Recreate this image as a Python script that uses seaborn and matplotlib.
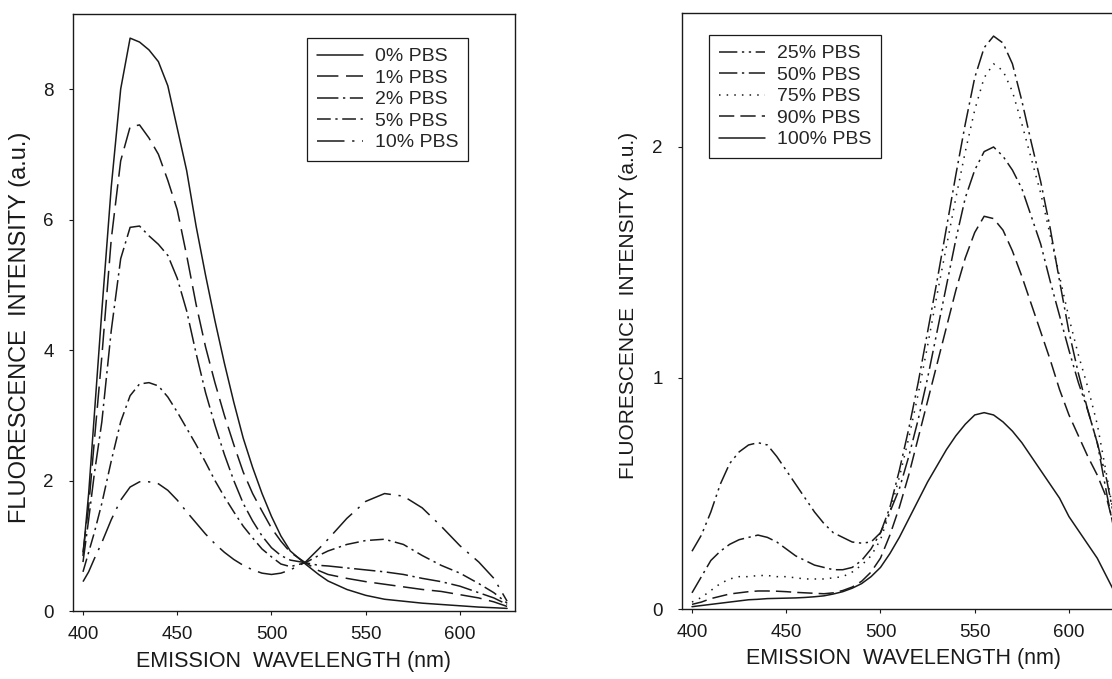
import numpy as np
import pandas as pd
import seaborn as sns
import matplotlib.pyplot as plt

# Emission spectra (wavelength in nm, intensity in a.u.)
wl_left = [400, 403, 406, 410, 415, 420, 425, 430, 435, 440, 445, 450, 455, 460, 465,
           470, 475, 480, 485, 490, 495, 500, 505, 510, 518, 525, 530, 540, 550, 560,
           570, 580, 590, 600, 610, 618, 625]

pbs_0 = [0.85, 1.8, 3.0, 4.6, 6.5, 8.0, 8.78, 8.72, 8.6, 8.42, 8.05, 7.4, 6.75, 5.9, 5.15,
         4.45, 3.8, 3.2, 2.65, 2.2, 1.8, 1.45, 1.15, 0.92, 0.72, 0.56, 0.46, 0.33, 0.24, 0.18,
         0.15, 0.12, 0.1, 0.08, 0.06, 0.05, 0.04]
pbs_1 = [0.9, 1.6, 2.6, 3.9, 5.7, 6.9, 7.42, 7.45, 7.25, 7.0, 6.6, 6.15, 5.45, 4.7, 4.05,
         3.5, 3.0, 2.55, 2.13, 1.8, 1.53, 1.27, 1.07, 0.9, 0.74, 0.62, 0.56, 0.5, 0.45, 0.41,
         0.37, 0.33, 0.3, 0.25, 0.2, 0.14, 0.07]
pbs_2 = [0.75, 1.4, 2.1, 2.9, 4.3, 5.4, 5.88, 5.9, 5.75, 5.62, 5.45, 5.1, 4.6, 3.95, 3.35,
         2.85, 2.4, 2.0, 1.65, 1.38, 1.15, 0.97, 0.85, 0.78, 0.74, 0.7, 0.69, 0.66, 0.63, 0.6,
         0.56, 0.5, 0.45, 0.38, 0.28, 0.2, 0.1]
pbs_5 = [0.6, 0.9, 1.2, 1.65, 2.3, 2.9, 3.3, 3.48, 3.5, 3.45, 3.28, 3.05, 2.8, 2.55, 2.28,
         2.0, 1.75, 1.52, 1.3, 1.12, 0.95, 0.83, 0.72, 0.68, 0.74, 0.85, 0.92, 1.02, 1.08, 1.1,
         1.02, 0.85, 0.7, 0.58, 0.42, 0.28, 0.12]
pbs_10 = [0.45, 0.6, 0.8, 1.05, 1.4, 1.7, 1.9, 1.98, 1.98, 1.95, 1.85, 1.7, 1.52, 1.35, 1.18,
          1.03, 0.9, 0.79, 0.7, 0.63, 0.58, 0.56, 0.58, 0.63, 0.75, 0.95, 1.1, 1.42, 1.68, 1.8,
          1.76, 1.58, 1.3, 1.0, 0.75, 0.5, 0.15]

wl_right = [400, 405, 410, 415, 420, 425, 430, 435, 440, 445, 450, 455, 460, 465, 470, 475,
            480, 485, 490, 495, 500, 505, 510, 515, 520, 525, 530, 535, 540, 545, 550, 555,
            560, 565, 570, 575, 580, 585, 590, 595, 600, 605, 610, 615, 620, 625]

pbs_25 = [0.25, 0.32, 0.42, 0.54, 0.63, 0.68, 0.71, 0.72, 0.71, 0.66, 0.6, 0.54, 0.48, 0.42,
          0.37, 0.33, 0.31, 0.29, 0.285, 0.29, 0.33, 0.42, 0.52, 0.66, 0.82, 1.0, 1.2, 1.4,
          1.6, 1.78, 1.9, 1.98, 2.0, 1.96, 1.9, 1.82, 1.7, 1.58, 1.42, 1.27, 1.12, 0.98, 0.86,
          0.72, 0.56, 0.35]
pbs_50 = [0.07, 0.14, 0.21, 0.25, 0.28, 0.3, 0.31, 0.32, 0.31, 0.29, 0.26, 0.23, 0.21, 0.19,
          0.18, 0.17, 0.17, 0.18, 0.21, 0.26, 0.33, 0.44, 0.6, 0.78, 0.98, 1.2, 1.42, 1.65,
          1.88, 2.1, 2.3, 2.43, 2.48, 2.45, 2.36, 2.2, 2.02, 1.85, 1.65, 1.42, 1.2, 1.02, 0.86,
          0.72, 0.5, 0.3]
pbs_75 = [0.03, 0.05, 0.08, 0.11, 0.13, 0.14, 0.14, 0.145, 0.145, 0.14, 0.14, 0.135, 0.13,
          0.13, 0.13, 0.135, 0.14, 0.16, 0.19, 0.23, 0.3, 0.42, 0.57, 0.74, 0.93, 1.14, 1.36,
          1.57, 1.78, 1.98, 2.16, 2.3, 2.36, 2.33, 2.24, 2.1, 1.95, 1.8, 1.62, 1.44, 1.26, 1.1,
          0.96, 0.8, 0.58, 0.35]
pbs_90 = [0.02, 0.03, 0.045, 0.055, 0.065, 0.07, 0.075, 0.078, 0.078, 0.077, 0.075, 0.072,
          0.07, 0.068, 0.066, 0.07, 0.08, 0.095, 0.12, 0.16, 0.22, 0.32, 0.44, 0.58, 0.74, 0.9,
          1.06, 1.22, 1.38, 1.52, 1.63, 1.7, 1.69, 1.64, 1.55, 1.44, 1.32, 1.2, 1.08, 0.95,
          0.84, 0.75, 0.66, 0.58, 0.48, 0.32]
pbs_100 = [0.01, 0.015, 0.02, 0.025, 0.03, 0.035, 0.04, 0.042, 0.045, 0.046, 0.047, 0.048,
           0.05, 0.053, 0.057, 0.065, 0.075, 0.09, 0.11, 0.14, 0.18, 0.24, 0.31, 0.39, 0.47,
           0.55, 0.62, 0.69, 0.75, 0.8, 0.84, 0.85, 0.84, 0.81, 0.77, 0.72, 0.66, 0.6, 0.54,
           0.48, 0.4, 0.34, 0.28, 0.22, 0.14, 0.06]

left_labels = ['0% PBS', '1% PBS', '2% PBS', '5% PBS', '10% PBS']
right_labels = ['25% PBS', '50% PBS', '75% PBS', '90% PBS', '100% PBS']

# Line styles roughly like the old SigmaPlot patterns
left_styles = ['-', (0, (14, 5)), (0, (14, 3, 1.5, 3)), (0, (9, 3, 1.5, 3)), (0, (18, 5, 1.5, 5))]
right_styles = [(0, (12, 3, 1.5, 3, 1.5, 3)), (0, (12, 3, 1.5, 3)), (0, (1, 4)), (0, (10, 4)), '-']

sns.set_theme(style='ticks')
plt.rcParams['font.family'] = ['Liberation Sans', 'DejaVu Sans']
ink = '#1a1a1a'

fig = plt.figure(figsize=(11.12, 6.79), dpi=100)
ax1 = fig.add_axes([73 / 1112, 68 / 679, 442 / 1112, 597 / 679])
ax2 = fig.add_axes([682 / 1112, 70 / 679, 442 / 1112, 596 / 679])

for vals, name, ls in zip([pbs_0, pbs_1, pbs_2, pbs_5, pbs_10], left_labels, left_styles):
    sns.lineplot(x=wl_left, y=vals, ax=ax1, color=ink, linestyle=ls, lw=1.1, label=name)

for vals, name, ls in zip([pbs_25, pbs_50, pbs_75, pbs_90, pbs_100], right_labels, right_styles):
    sns.lineplot(x=wl_right, y=vals, ax=ax2, color=ink, linestyle=ls, lw=1.1, label=name)

ax1.set_xlim(394.7, 629.2)
ax1.set_ylim(0, 9.15)
ax1.set_yticks([0, 2, 4, 6, 8])
ax2.set_xlim(394.7, 629.2)
ax2.set_ylim(0, 2.58)
ax2.set_yticks([0, 1, 2])

for ax in [ax1, ax2]:
    ax.set_xticks([400, 450, 500, 550, 600])
    for sp in ax.spines.values():
        sp.set_color(ink)
        sp.set_linewidth(1.0)
    ax.tick_params(direction='out', length=3, width=0.8, colors=ink, labelsize=13.5)
    ax.tick_params(axis='x', pad=8)
    ax.tick_params(axis='y', pad=11)
    ax.set_xlabel('EMISSION  WAVELENGTH (nm)', fontsize=15.5, color=ink)
    ax.xaxis.label.set_va('center')
    ax.xaxis.set_label_coords(0.5, -50 / 597)

ax1.set_ylabel('FLUORESCENCE  INTENSITY (a.u.)', fontsize=17, color=ink)
ax2.set_ylabel('FLUORESCENCE  INTENSITY (a.u.)', fontsize=15, color=ink)
ax1.yaxis.label.set_va('center')
ax2.yaxis.label.set_va('center')
ax1.yaxis.set_label_coords(-53 / 442, 0.475)
ax2.yaxis.set_label_coords(-54 / 442, 0.51)

leg_kw = dict(loc='upper left', frameon=True, fancybox=False, fontsize=14,
              handlelength=2.4, handletextpad=0.6, labelspacing=0.2, borderpad=0.5,
              borderaxespad=0)
leg1 = ax1.legend(bbox_to_anchor=((307 - 73) / 442, (611 - 38) / 597), **leg_kw)
leg2 = ax2.legend(bbox_to_anchor=((709 - 682) / 442, (609 - 35) / 596), **leg_kw)
for leg in [leg1, leg2]:
    leg.get_frame().set_edgecolor(ink)
    leg.get_frame().set_linewidth(0.9)
    leg.get_frame().set_alpha(1)

fig.savefig('out.png', dpi=100)
